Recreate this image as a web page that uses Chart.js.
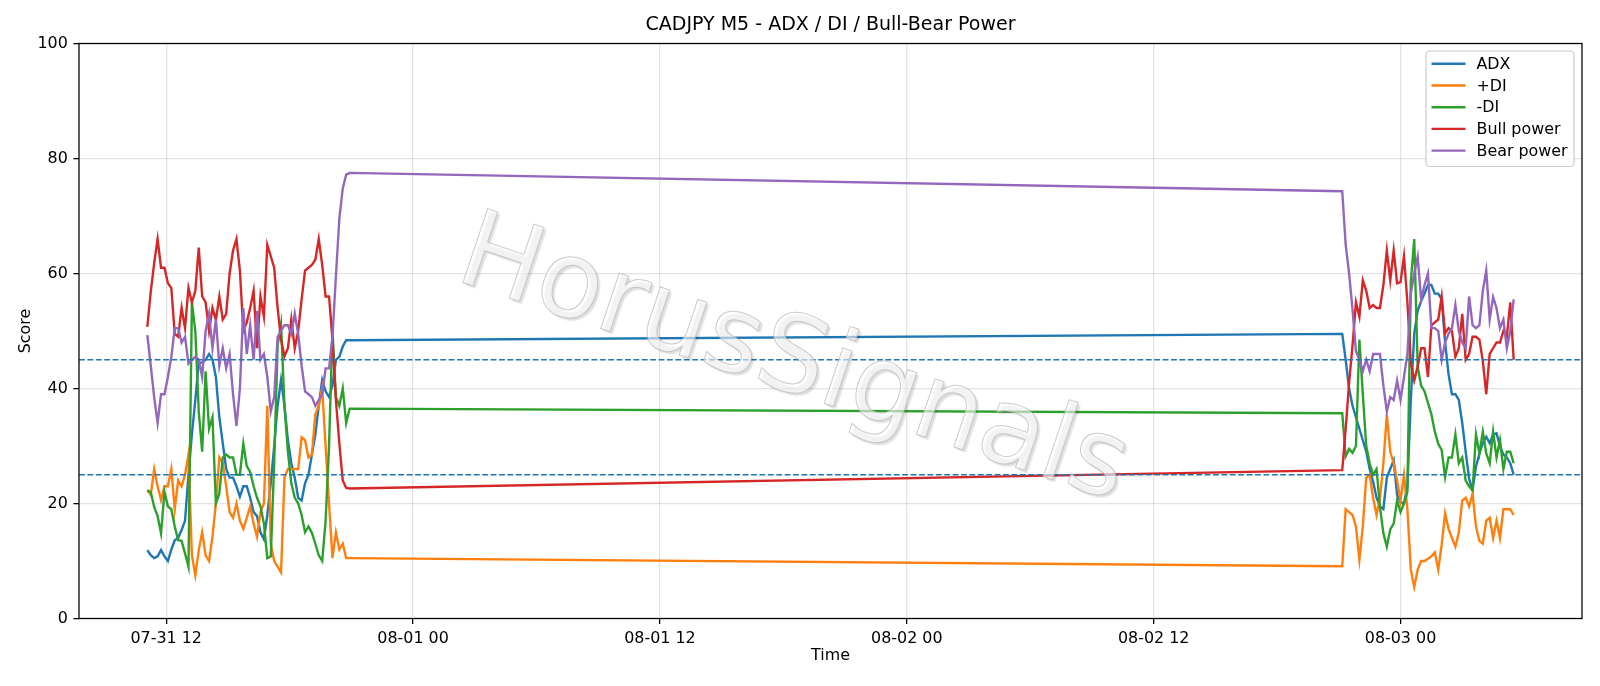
<!DOCTYPE html>
<html>
<head>
<meta charset="utf-8">
<script src="https://cdn.jsdelivr.net/npm/chart.js@4.4.1/dist/chart.umd.min.js"></script>
<style>
  html, body { margin: 0; padding: 0; background: #fff; }
  canvas { display: block; }
</style>
</head>
<body>
<canvas id="chart" width="1600" height="686"></canvas>
<script>
// hours counted from 07-31 00:00, one value every 10 minutes
const seg1Start = 11 + 5 / 60;       // 07-31 11:05 (friday session)
const seg2Start = 48 + 21 + 10 / 60; // 08-02 21:10 (sunday open)
const barHours = 10 / 60;

const tickHours = [12, 24, 36, 48, 60, 72];
const tickLabels = ['07-31 12', '08-01 00', '08-01 12', '08-02 00', '08-02 12', '08-03 00'];
const refLevels = [45, 25];

// friday session
const adxA = [11.9, 11, 10.5, 10.8, 11.9, 10.8, 10, 12, 13.6, 14,
  15.4, 17, 25, 32, 38, 44.5, 44.5, 45, 46, 45,
  42, 35, 30.5, 26, 24.5, 24.5, 23, 21.2, 23, 23,
  21, 18.5, 17.8, 15, 13.8, 18, 23.5, 30, 37, 41.5,
  37, 31, 27, 24.5, 21, 20.5, 23.5, 25, 28.5, 32,
  37, 41.5, 39.5, 38.5, 40.5, 45, 45.5, 47.3, 48.4, 48.4];
const pdiA = [22.3, 21.5, 26, 23, 20.6, 23, 23, 26, 19, 24,
  23, 25, 28.5, 11, 7.5, 11.9, 15, 11, 10, 14.2,
  20, 28, 27, 23, 18.5, 17.5, 20, 17, 15.6, 17.5,
  19.5, 16.5, 14.2, 18.5, 20, 37, 13, 10, 9, 8,
  24.5, 26, 26, 26, 26, 31.5, 31, 28, 28.5, 35.5,
  37, 40, 30, 20, 10.5, 15, 12, 13, 10.5, 10.5];
const mdiA = [22.3, 22, 19.4, 17.8, 14.8, 22, 19.5, 19, 16, 13.6,
  13.5, 11.3, 9, 55, 50, 36, 29, 43, 33, 35,
  20, 21.7, 28, 28.5, 28, 28, 25, 25, 30.4, 26.5,
  25.5, 23, 21, 19.5, 16.5, 10.5, 10.8, 27, 47.5, 51.2,
  37, 29, 23.5, 21, 20, 18, 15, 16, 14.9, 13,
  11, 10, 17, 30, 50, 38.5, 37, 40, 34, 36.5];
const bullA = [50.7, 56.8, 61.8, 66, 61, 61, 58.3, 57.5, 49.5, 49,
  54, 50.5, 57.5, 55, 57, 64.5, 56, 55, 50, 54,
  51.9, 56, 52, 53, 60, 64, 66, 60.5, 50, 51.5,
  54, 57, 47, 56, 52.5, 65, 63, 61, 54, 48.5,
  45.6, 47, 52, 47, 50, 55.5, 60.5, 61, 61.5, 62.4,
  66, 61.5, 56, 56, 48.5, 38, 30.5, 24, 22.7, 22.6];
const bearA = [49.3, 44, 38.5, 34, 39, 39, 42, 45.5, 50.5, 50.5,
  48, 49, 44.3, 45, 45.5, 45, 42, 50, 53, 47,
  52, 44, 47, 43.5, 46, 39, 33.5, 40, 54, 46,
  51, 45, 53.5, 45, 46, 42, 36, 38.5, 49, 50,
  51, 51, 49.5, 53, 49.5, 44, 39.5, 39, 38.5, 37,
  38, 39, 43.5, 43.5, 49, 59.5, 69.5, 74.8, 77.2, 77.5];

// sunday open -> monday morning
const adxB = [49.5, 45, 40, 37, 35, 33, 31, 29, 26, 23.8,
  21, 19.5, 19, 24.5, 26, 27.5, 21.5, 20.2, 20, 23,
  38, 49.6, 53.5, 55.2, 56.5, 58, 58, 56.5, 56.5, 55.5,
  48, 42.5, 39, 39, 38, 34, 29, 24.3, 22.3, 26.4,
  28.7, 30.5, 31.6, 30.5, 32, 32.2, 30, 28.5, 28, 27,
  25];
const pdiB = [9.1, 19, 18.5, 18, 16, 10.2, 16, 24.5, 25, 21,
  18, 21, 27, 35.5, 29, 27, 24, 20.5, 25, 19,
  8.5, 5.5, 8.5, 10, 10, 10.4, 10.8, 11.5, 8.5, 12.8,
  18.3, 15.6, 14, 12.5, 15, 20.5, 21, 19.5, 21.7, 16,
  13.5, 13, 17, 17.5, 14, 17, 14, 19, 19, 19,
  18];
const mdiB = [35.7, 28.2, 29.5, 28.8, 30, 48.5, 39, 30, 27, 25,
  26, 19.4, 14.8, 12.5, 15.5, 16.5, 20.5, 18.5, 20, 22,
  58.5, 66, 43.8, 40.5, 39.5, 37.5, 35.5, 32.5, 30.4, 29.3,
  24.6, 28, 28, 32, 27, 28, 24, 23, 22.3, 32,
  28.7, 32.5, 28.7, 27, 32.5, 28, 31, 26, 29, 29,
  27];
const bullB = [25.8, 33, 41, 47.5, 55, 52.5, 58.8, 57, 54, 54.5,
  54, 54, 58, 64, 58.8, 64, 58.3, 58.5, 63, 55,
  44.5, 41.4, 43.8, 47, 47, 42, 51, 51.5, 52, 56,
  49.6, 50.5, 50, 45.5, 47, 53, 45, 46, 49, 49,
  48.5, 44.8, 39, 46, 47, 48, 48, 50, 49, 55,
  45];
const bearB = [74.3, 65, 60, 53.7, 46.5, 45, 43, 45, 43, 46,
  46, 46, 40.5, 36, 38.5, 38, 41.4, 38, 42, 46,
  56.5, 60, 62.9, 55.5, 58, 60, 50.5, 50.5, 50, 45,
  48, 49.5, 50.5, 54.5, 50, 48, 47, 56, 51, 50.5,
  51, 57, 60.5, 52, 55.9, 54, 50.5, 52, 47, 50,
  55.5];

const FONT = '"DejaVu Sans", "Liberation Sans", sans-serif';
const GRID = 'rgba(176,176,176,0.35)';

function toPoints(a, b) {
  const pts = a.map((v, i) => ({ x: seg1Start + i * barHours, y: v }));
  return pts.concat(b.map((v, i) => ({ x: seg2Start + i * barHours, y: v })));
}

// matplotlib style 5% margin around the data
const firstX = seg1Start;
const lastX = seg2Start + (adxB.length - 1) * barHours;
const xMin = firstX - 0.05 * (lastX - firstX);
const xMax = lastX + 0.05 * (lastX - firstX);

const series = [
  { label: 'ADX', color: '#1f77b4', a: adxA, b: adxB },
  { label: '+DI', color: '#ff7f0e', a: pdiA, b: pdiB },
  { label: '-DI', color: '#2ca02c', a: mdiA, b: mdiB },
  { label: 'Bull power', color: '#d62728', a: bullA, b: bullB },
  { label: 'Bear power', color: '#9467bd', a: bearA, b: bearB }
];

const extras = {
  id: 'extras',
  afterDatasetsDraw(chart) {
    const { ctx, chartArea: ca, scales } = chart;
    ctx.save();
    ctx.beginPath();
    ctx.rect(ca.left, ca.top, ca.right - ca.left, ca.bottom - ca.top);
    ctx.clip();
    // reference levels
    ctx.strokeStyle = '#1f77b4';
    ctx.lineWidth = 1.6;
    ctx.setLineDash([5.9, 2.5]);
    refLevels.forEach(v => {
      const y = scales.y.getPixelForValue(v);
      ctx.beginPath();
      ctx.moveTo(ca.left, y);
      ctx.lineTo(ca.right, y);
      ctx.stroke();
    });
    ctx.setLineDash([]);
    // watermark
    ctx.translate(784, 390);
    ctx.rotate(18.5 * Math.PI / 180);
    ctx.font = '107px ' + FONT;
    ctx.textAlign = 'center';
    ctx.textBaseline = 'alphabetic';
    ctx.shadowColor = 'rgba(0,0,0,0.22)';
    ctx.shadowBlur = 1.5;
    ctx.shadowOffsetX = 2.5;
    ctx.shadowOffsetY = 2.5;
    ctx.fillStyle = 'rgba(255,255,255,0.6)';
    ctx.fillText('HorusSignals', 0, 0);
    ctx.shadowColor = 'transparent';
    ctx.strokeStyle = 'rgba(185,185,185,0.75)';
    ctx.lineWidth = 1;
    ctx.strokeText('HorusSignals', 0, 0);
    ctx.restore();
  },
  afterDraw(chart) {
    const { ctx, chartArea: ca } = chart;
    ctx.save();
    // frame
    ctx.strokeStyle = '#000';
    ctx.lineWidth = 1.27;
    ctx.strokeRect(ca.left, ca.top, ca.right - ca.left, ca.bottom - ca.top);
    // title
    ctx.fillStyle = '#000';
    ctx.font = '19px ' + FONT;
    ctx.textAlign = 'center';
    ctx.textBaseline = 'middle';
    ctx.fillText('CADJPY M5 - ADX / DI / Bull-Bear Power', (ca.left + ca.right) / 2, 25.5);
    // legend box, top right inside the axes
    const w = 148, h = 115.5;
    const x0 = ca.right - 8 - w, y0 = ca.top + 7.5;
    ctx.beginPath();
    ctx.roundRect(x0, y0, w, h, 4);
    ctx.fillStyle = 'rgba(255,255,255,0.8)';
    ctx.fill();
    ctx.strokeStyle = '#cccccc';
    ctx.lineWidth = 1.2;
    ctx.stroke();
    ctx.font = '15.9px ' + FONT;
    ctx.textAlign = 'left';
    series.forEach((s, i) => {
      const y = y0 + 12.8 + i * 21.7;
      ctx.strokeStyle = s.color;
      ctx.lineWidth = 2.4;
      ctx.beginPath();
      ctx.moveTo(x0 + 5.5, y);
      ctx.lineTo(x0 + 39.5, y);
      ctx.stroke();
      ctx.fillStyle = '#000';
      ctx.fillText(s.label, x0 + 50.5, y + 1);
    });
    ctx.restore();
  }
};

new Chart(document.getElementById('chart'), {
  type: 'line',
  data: {
    datasets: series.map((s, i) => ({
      label: s.label,
      data: toPoints(s.a, s.b),
      borderColor: s.color,
      backgroundColor: s.color,
      borderWidth: 2.4,
      pointRadius: 0,
      tension: 0,
      fill: false,
      order: series.length - i
    }))
  },
  options: {
    responsive: false,
    animation: false,
    devicePixelRatio: 1,
    layout: { padding: { top: 43.5, right: 18, left: 0, bottom: 0 } },
    plugins: {
      legend: { display: false },
      tooltip: { enabled: false },
      title: { display: false }
    },
    scales: {
      x: {
        type: 'linear',
        min: xMin,
        max: xMax,
        afterBuildTicks: s => { s.ticks = tickHours.map(v => ({ value: v })); },
        afterFit: s => { s.height = 67.5; },
        ticks: {
          autoSkip: false,
          maxRotation: 0,
          padding: 5.6,
          color: '#000',
          font: { family: FONT, size: 15.9 },
          callback: v => {
            const i = tickHours.indexOf(v);
            return i >= 0 ? tickLabels[i] : '';
          }
        },
        grid: { color: GRID, lineWidth: 1.27, tickLength: 5.6, tickColor: '#000', tickWidth: 1.27 },
        border: { display: false },
        title: {
          display: true, text: 'Time', color: '#000',
          font: { family: FONT, size: 15.9 },
          padding: { top: 0, bottom: 20.5 }
        }
      },
      y: {
        min: 0,
        max: 100,
        afterFit: s => { s.width = 79; },
        ticks: {
          stepSize: 20,
          padding: 5.6,
          color: '#000',
          font: { family: FONT, size: 15.9 }
        },
        grid: { color: GRID, lineWidth: 1.27, tickLength: 5.6, tickColor: '#000', tickWidth: 1.27 },
        border: { display: false },
        title: {
          display: true, text: 'Score', color: '#000',
          font: { family: FONT, size: 15.9 },
          padding: { top: 16, bottom: 0 }
        }
      }
    }
  },
  plugins: [extras]
});
</script>
</body>
</html>
